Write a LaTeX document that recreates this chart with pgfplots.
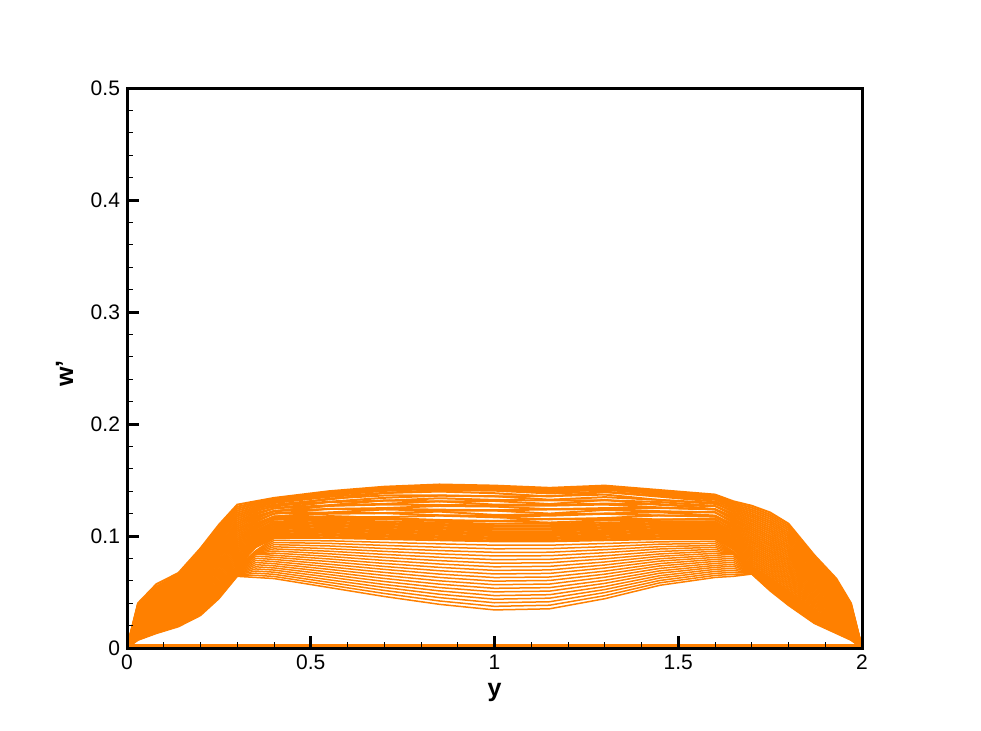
\documentclass[border=0pt]{standalone}
\usepackage{fontspec}
\setmainfont{Liberation Sans}
\usepackage{pgfplots}
\usepackage{pgfplotstable}
\pgfplotsset{compat=1.18}
\definecolor{tecorange}{RGB}{255,128,0}
\pgfplotstableread{
x c1 c2 c3 c4 c5 c6 c7 c8 c9 c10 c11 c12 c13 c14 c15 c16 c17 c18 c19 c20 c21 c22 c23 c24 c25 c26 c27 c28 c29 c30 c31 c32 c33 c34 c35 c36 c37 c38 c39 c40 c41 c42 c43 c44 c45 c46 c47 c48 c49 c50 c51 c52
0 0 0 0 0  0 0 0 0  0 0 0 0  0 0 0 0  0 0 0 0  0 0 0 0  0 0 0 0  0 0 0 0  0 0 0 0  0 0 0 0  0 0 0 0  0 0 0 0  0 0 0 0
0.03 0.0070 0.0074 0.0077 0.0081 0.0085 0.0088 0.0092 0.0096 0.0099 0.0103 0.0107 0.0110 0.0114 0.0118 0.0122 0.0125 0.0129 0.0133 0.0136 0.0140 0.0150 0.0158 0.0166 0.0174 0.0182 0.0190 0.0198 0.0206 0.0214 0.0223 0.0231 0.0239 0.0247 0.0255 0.0263 0.0271 0.0279 0.0287 0.0295 0.0303 0.0311 0.0319 0.0327 0.0335 0.0343 0.0352 0.0360 0.0368 0.0376 0.0384 0.0392 0.0400
0.08 0.0130 0.0135 0.0139 0.0144 0.0149 0.0154 0.0158 0.0163 0.0168 0.0173 0.0177 0.0182 0.0187 0.0192 0.0196 0.0201 0.0206 0.0211 0.0215 0.0220 0.0230 0.0241 0.0251 0.0262 0.0273 0.0283 0.0294 0.0305 0.0315 0.0326 0.0336 0.0347 0.0358 0.0368 0.0379 0.0390 0.0400 0.0411 0.0422 0.0432 0.0443 0.0454 0.0464 0.0475 0.0486 0.0496 0.0507 0.0517 0.0528 0.0539 0.0549 0.0570
0.14 0.0190 0.0197 0.0204 0.0211 0.0217 0.0224 0.0231 0.0238 0.0245 0.0252 0.0258 0.0265 0.0272 0.0279 0.0286 0.0293 0.0299 0.0306 0.0313 0.0320 0.0330 0.0341 0.0352 0.0363 0.0374 0.0385 0.0396 0.0407 0.0418 0.0429 0.0440 0.0451 0.0462 0.0473 0.0484 0.0495 0.0505 0.0516 0.0527 0.0538 0.0549 0.0560 0.0571 0.0582 0.0593 0.0604 0.0615 0.0626 0.0637 0.0648 0.0659 0.0670
0.2 0.0290 0.0298 0.0307 0.0315 0.0324 0.0332 0.0341 0.0349 0.0357 0.0366 0.0374 0.0383 0.0391 0.0399 0.0408 0.0416 0.0425 0.0433 0.0442 0.0450 0.0460 0.0474 0.0488 0.0502 0.0515 0.0529 0.0543 0.0557 0.0571 0.0585 0.0599 0.0613 0.0626 0.0640 0.0654 0.0668 0.0682 0.0696 0.0710 0.0724 0.0737 0.0751 0.0765 0.0779 0.0793 0.0807 0.0821 0.0835 0.0848 0.0862 0.0876 0.0890
0.25 0.0440 0.0447 0.0455 0.0462 0.0469 0.0477 0.0484 0.0492 0.0499 0.0506 0.0514 0.0521 0.0528 0.0536 0.0543 0.0551 0.0558 0.0565 0.0573 0.0580 0.0590 0.0606 0.0623 0.0639 0.0656 0.0672 0.0689 0.0705 0.0722 0.0738 0.0755 0.0771 0.0787 0.0804 0.0820 0.0837 0.0853 0.0870 0.0886 0.0903 0.0919 0.0935 0.0952 0.0968 0.0985 0.1001 0.1018 0.1034 0.1051 0.1067 0.1084 0.1100
0.3 0.0640 0.0644 0.0648 0.0653 0.0657 0.0661 0.0665 0.0669 0.0674 0.0678 0.0682 0.0686 0.0690 0.0695 0.0699 0.0703 0.0707 0.0711 0.0716 0.0720 0.0730 0.0748 0.0765 0.0783 0.0801 0.0819 0.0836 0.0854 0.0872 0.0890 0.0907 0.0925 0.0943 0.0961 0.0978 0.0996 0.1014 0.1032 0.1049 0.1067 0.1085 0.1103 0.1120 0.1138 0.1156 0.1174 0.1191 0.1209 0.1227 0.1245 0.1262 0.1280
0.35 0.0630 0.0649 0.0668 0.0687 0.0706 0.0725 0.0744 0.0763 0.0782 0.0801 0.0820 0.0838 0.0840 0.0844 0.0848 0.0852 0.0856 0.0860 0.0864 0.0868 0.0900 0.0913 0.0926 0.0940 0.0953 0.0966 0.0979 0.0993 0.1006 0.1019 0.1032 0.1046 0.1059 0.1072 0.1085 0.1098 0.1112 0.1125 0.1138 0.1151 0.1165 0.1178 0.1191 0.1204 0.1218 0.1231 0.1244 0.1257 0.1271 0.1284 0.1297 0.1310
0.4 0.0620 0.0639 0.0658 0.0677 0.0696 0.0715 0.0734 0.0753 0.0772 0.0791 0.0810 0.0828 0.0847 0.0866 0.0885 0.0904 0.0923 0.0942 0.0961 0.0980 0.0980 0.0994 0.1007 0.1021 0.1035 0.1048 0.1062 0.1076 0.1089 0.1103 0.1116 0.1130 0.1155 0.1145 0.1169 0.1174 0.1174 0.1203 0.1198 0.1223 0.1222 0.1222 0.1247 0.1246 0.1271 0.1261 0.1280 0.1295 0.1305 0.1318 0.1330 0.1340
0.55 0.0540 0.0563 0.0586 0.0609 0.0633 0.0656 0.0679 0.0702 0.0725 0.0748 0.0772 0.0795 0.0818 0.0841 0.0864 0.0887 0.0911 0.0934 0.0957 0.0980 0.0990 0.1004 0.1017 0.1031 0.1045 0.1058 0.1072 0.1086 0.1099 0.1113 0.1126 0.1140 0.1150 0.1178 0.1171 0.1199 0.1207 0.1210 0.1243 0.1241 0.1269 0.1272 0.1275 0.1303 0.1306 0.1334 0.1327 0.1350 0.1363 0.1375 0.1388 0.1400
0.7 0.0460 0.0487 0.0514 0.0541 0.0567 0.0594 0.0621 0.0648 0.0675 0.0702 0.0728 0.0755 0.0782 0.0809 0.0836 0.0863 0.0889 0.0916 0.0943 0.0970 0.0980 0.0994 0.1007 0.1021 0.1035 0.1048 0.1062 0.1076 0.1089 0.1103 0.1116 0.1130 0.1150 0.1161 0.1168 0.1204 0.1205 0.1237 0.1243 0.1249 0.1281 0.1287 0.1318 0.1315 0.1341 0.1362 0.1384 0.1385 0.1403 0.1415 0.1428 0.1440
0.85 0.0390 0.0420 0.0450 0.0480 0.0510 0.0540 0.0570 0.0600 0.0630 0.0660 0.0690 0.0720 0.0750 0.0780 0.0810 0.0840 0.0870 0.0900 0.0930 0.0960 0.0970 0.0984 0.0997 0.1011 0.1025 0.1038 0.1052 0.1066 0.1079 0.1093 0.1106 0.1120 0.1135 0.1143 0.1182 0.1185 0.1218 0.1227 0.1235 0.1268 0.1277 0.1310 0.1308 0.1337 0.1360 0.1363 0.1397 0.1410 0.1423 0.1435 0.1448 0.1460
1.0 0.0340 0.0372 0.0404 0.0436 0.0468 0.0501 0.0533 0.0565 0.0597 0.0629 0.0661 0.0693 0.0725 0.0757 0.0789 0.0822 0.0854 0.0886 0.0918 0.0950 0.0960 0.0974 0.0987 0.1001 0.1015 0.1028 0.1042 0.1056 0.1069 0.1083 0.1096 0.1110 0.1135 0.1133 0.1167 0.1180 0.1188 0.1227 0.1230 0.1263 0.1272 0.1280 0.1313 0.1322 0.1355 0.1353 0.1382 0.1405 0.1413 0.1425 0.1438 0.1450
1.15 0.0350 0.0382 0.0413 0.0445 0.0476 0.0508 0.0539 0.0571 0.0603 0.0634 0.0666 0.0697 0.0729 0.0761 0.0792 0.0824 0.0855 0.0887 0.0918 0.0950 0.0960 0.0974 0.0987 0.1001 0.1015 0.1028 0.1042 0.1056 0.1069 0.1083 0.1096 0.1110 0.1120 0.1152 0.1149 0.1181 0.1193 0.1200 0.1237 0.1239 0.1271 0.1278 0.1285 0.1317 0.1324 0.1356 0.1353 0.1380 0.1393 0.1405 0.1418 0.1430
1.3 0.0440 0.0467 0.0495 0.0522 0.0549 0.0577 0.0604 0.0632 0.0659 0.0686 0.0714 0.0741 0.0768 0.0796 0.0823 0.0851 0.0878 0.0905 0.0933 0.0960 0.0970 0.0984 0.0997 0.1011 0.1025 0.1038 0.1052 0.1066 0.1079 0.1093 0.1106 0.1120 0.1140 0.1153 0.1160 0.1198 0.1201 0.1233 0.1241 0.1249 0.1281 0.1289 0.1322 0.1319 0.1347 0.1370 0.1392 0.1395 0.1413 0.1425 0.1438 0.1450
1.45 0.0560 0.0582 0.0603 0.0625 0.0646 0.0668 0.0689 0.0711 0.0733 0.0754 0.0776 0.0797 0.0819 0.0840 0.0862 0.0884 0.0905 0.0927 0.0948 0.0970 0.0980 0.0994 0.1007 0.1021 0.1035 0.1048 0.1062 0.1076 0.1089 0.1103 0.1116 0.1130 0.1145 0.1149 0.1184 0.1183 0.1212 0.1217 0.1221 0.1250 0.1255 0.1284 0.1278 0.1303 0.1322 0.1321 0.1351 0.1360 0.1373 0.1385 0.1398 0.1410
1.6 0.0630 0.0648 0.0666 0.0684 0.0702 0.0720 0.0737 0.0755 0.0773 0.0791 0.0809 0.0827 0.0845 0.0863 0.0881 0.0899 0.0916 0.0934 0.0952 0.0970 0.0980 0.0994 0.1007 0.1021 0.1035 0.1048 0.1062 0.1076 0.1089 0.1103 0.1116 0.1130 0.1155 0.1147 0.1173 0.1180 0.1182 0.1213 0.1210 0.1237 0.1238 0.1240 0.1267 0.1268 0.1295 0.1287 0.1308 0.1325 0.1333 0.1345 0.1358 0.1370
1.65 0.0640 0.0658 0.0676 0.0694 0.0712 0.0730 0.0747 0.0765 0.0783 0.0801 0.0819 0.0837 0.0838 0.0841 0.0844 0.0847 0.0850 0.0853 0.0856 0.0860 0.0880 0.0894 0.0908 0.0922 0.0935 0.0949 0.0963 0.0977 0.0991 0.1005 0.1019 0.1033 0.1046 0.1060 0.1074 0.1088 0.1102 0.1116 0.1130 0.1144 0.1157 0.1171 0.1185 0.1199 0.1213 0.1227 0.1241 0.1255 0.1268 0.1282 0.1296 0.1310
1.7 0.0660 0.0663 0.0666 0.0669 0.0673 0.0676 0.0679 0.0682 0.0685 0.0688 0.0692 0.0695 0.0698 0.0701 0.0704 0.0707 0.0711 0.0714 0.0717 0.0720 0.0730 0.0747 0.0765 0.0782 0.0800 0.0817 0.0835 0.0852 0.0869 0.0887 0.0904 0.0922 0.0939 0.0956 0.0974 0.0991 0.1009 0.1026 0.1044 0.1061 0.1078 0.1096 0.1113 0.1131 0.1148 0.1166 0.1183 0.1200 0.1218 0.1235 0.1253 0.1270
1.75 0.0510 0.0516 0.0522 0.0527 0.0533 0.0539 0.0545 0.0551 0.0556 0.0562 0.0568 0.0574 0.0579 0.0585 0.0591 0.0597 0.0603 0.0608 0.0614 0.0620 0.0630 0.0649 0.0667 0.0686 0.0705 0.0724 0.0742 0.0761 0.0780 0.0798 0.0817 0.0836 0.0855 0.0873 0.0892 0.0911 0.0929 0.0948 0.0967 0.0986 0.1004 0.1023 0.1042 0.1060 0.1079 0.1098 0.1117 0.1135 0.1154 0.1173 0.1191 0.1210
1.8 0.0380 0.0386 0.0393 0.0399 0.0405 0.0412 0.0418 0.0424 0.0431 0.0437 0.0443 0.0450 0.0456 0.0462 0.0468 0.0475 0.0481 0.0487 0.0494 0.0500 0.0510 0.0529 0.0549 0.0568 0.0587 0.0607 0.0626 0.0645 0.0665 0.0684 0.0704 0.0723 0.0742 0.0762 0.0781 0.0800 0.0820 0.0839 0.0858 0.0878 0.0897 0.0916 0.0936 0.0955 0.0974 0.0994 0.1013 0.1032 0.1052 0.1071 0.1091 0.1110
1.87 0.0220 0.0226 0.0232 0.0237 0.0243 0.0249 0.0255 0.0261 0.0266 0.0272 0.0278 0.0284 0.0289 0.0295 0.0301 0.0307 0.0313 0.0318 0.0324 0.0330 0.0340 0.0356 0.0372 0.0387 0.0403 0.0419 0.0435 0.0451 0.0466 0.0482 0.0498 0.0514 0.0530 0.0546 0.0561 0.0577 0.0593 0.0609 0.0625 0.0640 0.0656 0.0672 0.0688 0.0704 0.0719 0.0735 0.0751 0.0767 0.0783 0.0799 0.0814 0.0830
1.93 0.0130 0.0135 0.0139 0.0144 0.0149 0.0154 0.0158 0.0163 0.0168 0.0173 0.0177 0.0182 0.0187 0.0192 0.0196 0.0201 0.0206 0.0211 0.0215 0.0220 0.0230 0.0243 0.0255 0.0268 0.0280 0.0293 0.0305 0.0318 0.0331 0.0343 0.0356 0.0368 0.0381 0.0394 0.0406 0.0419 0.0431 0.0444 0.0456 0.0469 0.0482 0.0494 0.0507 0.0519 0.0532 0.0545 0.0557 0.0570 0.0582 0.0595 0.0607 0.0620
1.97 0.0070 0.0073 0.0075 0.0078 0.0081 0.0083 0.0086 0.0089 0.0091 0.0094 0.0096 0.0099 0.0102 0.0104 0.0107 0.0110 0.0112 0.0115 0.0118 0.0120 0.0130 0.0139 0.0147 0.0156 0.0165 0.0174 0.0182 0.0191 0.0200 0.0208 0.0217 0.0226 0.0235 0.0243 0.0252 0.0261 0.0269 0.0278 0.0287 0.0296 0.0304 0.0313 0.0322 0.0331 0.0339 0.0348 0.0357 0.0366 0.0374 0.0383 0.0392 0.0400
2.0 0 0 0 0  0 0 0 0  0 0 0 0  0 0 0 0  0 0 0 0  0 0 0 0  0 0 0 0  0 0 0 0  0 0 0 0  0 0 0 0  0 0 0 0  0 0 0 0  0 0 0 0
}\curves
\begin{document}
\begin{tikzpicture}
\path[use as bounding box] (0,0) rectangle (490.5pt,365pt);
\begin{axis}[
  at={(63.5pt,41pt)}, anchor=south west,
  scale only axis, width=367.5pt, height=280pt,
  xmin=0, xmax=2, ymin=0, ymax=0.5,
  xtick={0,0.5,1,1.5,2}, ytick={0,0.1,0.2,0.3,0.4,0.5},
  minor x tick num=4, minor y tick num=4,
  tick align=inside, xtick pos=bottom, ytick pos=left,
  major tick length=6pt, minor tick length=3pt,
  axis line style={line width=1.5pt, black},
  every major tick/.style={line width=1.5pt, black},
  every minor tick/.style={line width=0.5pt, black},
  axis on top,
  tick label style={font=\fontsize{10.5}{12}\selectfont},
  /pgf/number format/assume math mode=true,
  xlabel={y}, ylabel={w'},
  label style={font=\fontsize{12.5}{14}\selectfont\bfseries},
  xlabel style={at={(axis description cs:0.5,-0.079)}, anchor=center},
  ylabel style={at={(axis description cs:-0.085,0.49)}, anchor=center},
]
\addplot[tecorange, line width=4pt, no markers] coordinates {(0,0) (2,0)};
\pgfplotsinvokeforeach{1,...,20}{
  \addplot[tecorange, line width=0.75pt, no markers] table[x index=0, y index=#1] {\curves};
}
\pgfplotsinvokeforeach{21,...,52}{
  \addplot[tecorange, line width=1pt, no markers] table[x index=0, y index=#1] {\curves};
}
\end{axis}
\end{tikzpicture}
\end{document}
